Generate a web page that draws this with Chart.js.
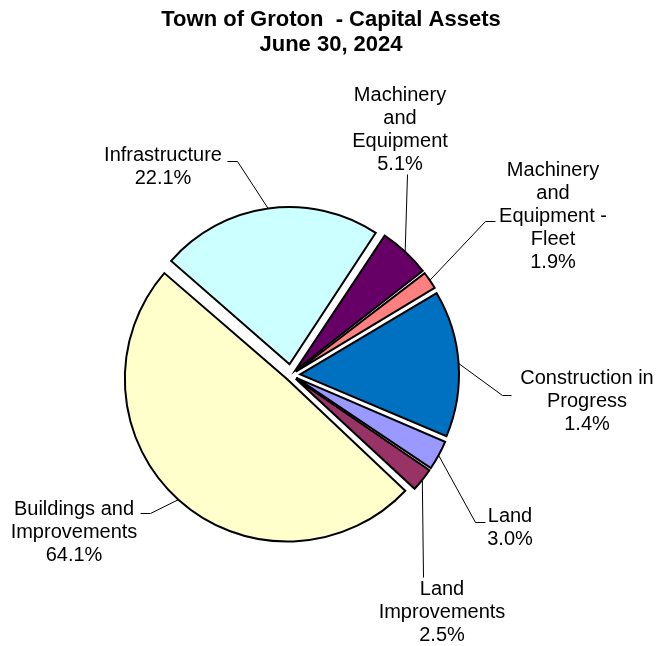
<!DOCTYPE html>
<html>
<head>
<meta charset="utf-8">
<script src="https://cdn.jsdelivr.net/npm/chart.js@4/dist/chart.umd.min.js"></script>
<style>
  html, body { margin: 0; padding: 0; background: #fff; }
  canvas { display: block; }
</style>
</head>
<body>
<canvas id="assets" width="658" height="646"></canvas>
<script>
const categories = ['Infrastructure', 'Machinery and Equipment', 'Machinery and Equipment - Fleet',
  'Construction in Progress', 'Land', 'Land Improvements', 'Buildings and Improvements'];
const sliceShares = [22.9, 5.3, 1.9, 15.0, 3.1, 2.5, 49.6];
// percentages as printed on the labels
const labelPercents = ['22.1%', '5.1%', '1.9%', '1.4%', '3.0%', '2.5%', '64.1%'];
const labelLines = [
  ['Infrastructure'],
  ['Machinery', 'and', 'Equipment'],
  ['Machinery', 'and', 'Equipment -', 'Fleet'],
  ['Construction in', 'Progress'],
  ['Land'],
  ['Land', 'Improvements'],
  ['Buildings and', 'Improvements']
];
const sliceColors = ['#CCFFFF', '#660066', '#FF8080', '#0070C0', '#9999FF', '#993366', '#FFFFCC'];

const EXPLODE = 11;
const FONT = '"Liberation Sans", Arial, sans-serif';

// where each label block sits: centre x, first baseline, leader bend and end
const labelLayout = [
  { cx: 163, y: 161, leader: [[237, 161], [227, 161]] },
  { cx: 400, y: 101, leader: [[407, 174]] },
  { cx: 553, y: 176, leader: [[485, 221], [495, 221]] },
  { cx: 587, y: 384, leader: [[502, 395], [511, 395]] },
  { cx: 510, y: 522, leader: [[475, 522], [485, 522]] },
  { cx: 442, y: 595, leader: [[423, 577]] },
  { cx: 74, y: 515, leader: [[150, 513], [140, 513]] }
];

const total = sliceShares.reduce((a, b) => a + b, 0);

const pieLabels = {
  id: 'pieLabels',
  afterDatasetsDraw(chart) {
    const ctx = chart.ctx;
    const arcs = chart.getDatasetMeta(0).data;
    ctx.save();
    // title
    ctx.fillStyle = '#000';
    ctx.textAlign = 'center';
    ctx.textBaseline = 'alphabetic';
    ctx.font = 'bold 22px ' + FONT;
    ctx.fillText('Town of Groton  - Capital Assets', 331, 26);
    ctx.fillText('June 30, 2024', 331, 51);

    ctx.font = '20px ' + FONT;
    ctx.strokeStyle = '#000';
    ctx.lineWidth = 1;
    arcs.forEach((arc, i) => {
      const p = arc.getProps(['x', 'y', 'startAngle', 'endAngle', 'outerRadius'], true);
      const mid = (p.startAngle + p.endAngle) / 2;
      const r = p.outerRadius + EXPLODE;
      const lay = labelLayout[i];
      ctx.beginPath();
      ctx.moveTo(p.x + Math.cos(mid) * r, p.y + Math.sin(mid) * r);
      lay.leader.forEach(pt => ctx.lineTo(pt[0] + 0.5, pt[1] + 0.5));
      ctx.stroke();
      const lines = labelLines[i].concat([labelPercents[i]]);
      lines.forEach((t, k) => ctx.fillText(t, lay.cx, lay.y + k * 23));
    });
    ctx.restore();
  }
};

new Chart(document.getElementById('assets'), {
  type: 'pie',
  data: {
    labels: categories,
    datasets: [{
      data: sliceShares,
      backgroundColor: sliceColors,
      borderColor: '#000',
      borderWidth: 2,
      borderJoinStyle: 'miter',
      // Chart.js moves a slice by offset/4*(2 - sin(angle)); pick offset so every slice moves EXPLODE px
      offset: (c) => {
        const a = sliceShares[c.dataIndex] / total * Math.PI * 2;
        const fix = 1 - Math.sin(Math.min(Math.PI, a));
        return EXPLODE * 4 / (1 + fix);
      }
    }]
  },
  options: {
    responsive: false,
    animation: false,
    rotation: -48.9,
    radius: 157,
    layout: { padding: { left: 0, right: 76, top: 104, bottom: 0 } },
    plugins: {
      legend: { display: false },
      title: { display: false },
      tooltip: { enabled: false }
    }
  },
  plugins: [pieLabels]
});
</script>
</body>
</html>
